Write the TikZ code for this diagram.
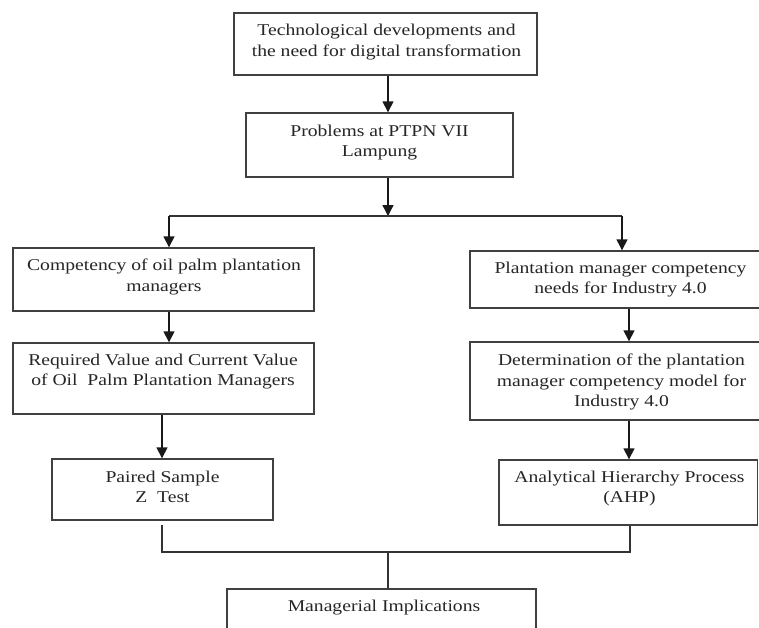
\documentclass[tikz,border=0pt]{standalone}
\usepackage{fontspec}
\setmainfont{Liberation Serif}[FakeStretch=1.19]
\usetikzlibrary{arrows.meta}
\definecolor{boxcol}{RGB}{64,64,64}
\begin{document}
\begin{tikzpicture}[x=1pt,y=-1pt,
  box/.style={draw=boxcol,line width=1.4pt,rectangle,inner sep=0pt},
  txt/.style={inner sep=0pt,align=center,font=\fontsize{16.5}{20.5}\selectfont,text=black!85},
  arr/.style={draw=black!90,line width=1.4pt,-{Triangle[length=11pt,width=11pt]}},
  ln/.style={draw=black!80,line width=1.4pt}]
\clip (0,0) rectangle (759,627);
\fill[white] (0,0) rectangle (759,627);
% boxes
\node[box,minimum width=303pt,minimum height=62pt] (b1) at (385.5,44) {};
\node[box,minimum width=267pt,minimum height=64pt] (b2) at (379.5,145) {};
\node[box,minimum width=301pt,minimum height=63pt] (b3) at (163.5,279.5) {};
\node[box,minimum width=301pt,minimum height=71pt] (b4) at (163.5,378.5) {};
\node[box,minimum width=221pt,minimum height=61pt] (b5) at (162.5,489.5) {};
\node[box,minimum width=305pt,minimum height=57pt] (b6) at (622.5,279.5) {};
\node[box,minimum width=305pt,minimum height=78pt] (b7) at (622.5,381) {};
\node[box,minimum width=258.5pt,minimum height=65pt] (b8) at (628.25,492.5) {};
\node[box,minimum width=309pt,minimum height=61pt] (b9) at (381.5,619.5) {};
% texts
\node[txt] (t1) at (386.5,42) {Technological developments and\\the need for digital transformation};
\node[txt] (t2) at (379.5,142.5) {Problems at PTPN VII\\Lampung};
\node[txt] (t3) at (164,277) {Competency of oil palm plantation\\managers};
\node[txt] (t4) at (163,371.5) {Required Value and Current Value\\of Oil\ \ Palm Plantation Managers};
\node[txt] (t5) at (162.5,487) {Paired Sample\\Z\ \ Test};
\node[txt] (t6) at (620.5,279.5) {Plantation manager competency\\needs for Industry 4.0};
\node[txt] (t7) at (621.5,382) {Determination of the plantation\\manager competency model for\\Industry 4.0};
\node[txt] (t8) at (629.5,488.5) {Analytical Hierarchy Process\\(AHP)};
\node[txt] (t9) at (384,608) {Managerial Implications};
% helper coordinates
\coordinate (xA) at (388,0);
\coordinate (xL) at (169,0);
\coordinate (xL2) at (162,0);
\coordinate (xR2) at (629,0);
\coordinate (sL) at (169,216);
\coordinate (sM) at (388,216);
\coordinate (sR) at (622,216);
\coordinate (jLtop) at (162,525);
\coordinate (jL) at (162,552);
\coordinate (jM) at (388,552);
\coordinate (jR) at (630,552);
% connectors
\draw[arr] (b1.south -| xA) -- (b2.north -| xA);
\draw[arr] (b2.south -| xA) -- (sM);
\draw[ln] (sL) -- (sR);
\draw[arr] (sL) -- (b3.north -| sL);
\draw[arr] (sR) -- (b6.north -| sR);
\draw[arr] (b3.south -| xL) -- (b4.north -| xL);
\draw[arr] (b4.south -| xL2) -- (b5.north -| xL2);
\draw[arr] (b6.south -| xR2) -- (b7.north -| xR2);
\draw[arr] (b7.south -| xR2) -- (b8.north -| xR2);
\draw[ln] (jLtop) -- (jL) -- (jR) -- (b8.south -| jR);
\draw[ln] (jM) -- (b9.north -| jM);
\end{tikzpicture}
\end{document}
